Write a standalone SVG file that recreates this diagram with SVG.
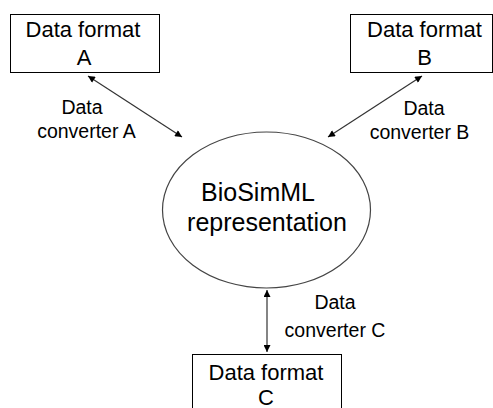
<svg xmlns="http://www.w3.org/2000/svg" width="493" height="408" viewBox="0 0 493 408">
<style>
.box{fill:#fff;stroke:#000;stroke-width:1}
.ell{fill:#fff;stroke:#444;stroke-width:1.2}
.t{font-family:"Liberation Sans",Arial,sans-serif;fill:#000;text-anchor:middle}
.bt{font-size:22px}
.lt{font-size:19.5px}
.ct{font-size:25px}
.con{stroke:#333;stroke-width:1.2;fill:none;marker-start:url(#ah);marker-end:url(#ah)}
</style>
<defs>
<marker id="ah" viewBox="0 0 10 10" refX="10" refY="5" markerWidth="9" markerHeight="7" markerUnits="userSpaceOnUse" orient="auto-start-reverse">
<path d="M0,0 L10,5 L0,10 z" fill="#000"/>
</marker>
</defs>
<rect width="493" height="408" fill="#fff"/>
<g id="connectors">
<line class="con" x1="88" y1="76" x2="182" y2="137"/>
<line class="con" x1="422" y1="76" x2="328" y2="137"/>
<line class="con" x1="267" y1="290" x2="267" y2="352"/>
</g>
<g id="nodeA">
<rect class="box" x="10.5" y="14.5" width="149" height="58"/>
<text class="t bt" x="83" y="37">Data format</text>
<text class="t bt" x="84" y="65">A</text>
</g>
<g id="nodeB">
<rect class="box" x="350.5" y="14.5" width="142" height="58"/>
<text class="t bt" x="424.5" y="37">Data format</text>
<text class="t bt" x="424.5" y="65">B</text>
</g>
<g id="nodeC">
<rect class="box" x="192.5" y="354.5" width="149" height="60"/>
<text class="t bt" x="266" y="380">Data format</text>
<text class="t bt" x="266" y="405">C</text>
</g>
<g id="center">
<ellipse class="ell" cx="266.5" cy="210" rx="104" ry="78"/>
<text class="t ct" x="258" y="201">BioSimML</text>
<text class="t ct" x="267" y="231">representation</text>
</g>
<g id="labelA">
<text class="t lt" x="82" y="114">Data</text>
<text class="t lt" x="86.5" y="138">converter A</text>
</g>
<g id="labelB">
<text class="t lt" x="424" y="115">Data</text>
<text class="t lt" x="419.5" y="139">converter B</text>
</g>
<g id="labelC">
<text class="t lt" x="335" y="309">Data</text>
<text class="t lt" x="335" y="337">converter C</text>
</g>
</svg>
